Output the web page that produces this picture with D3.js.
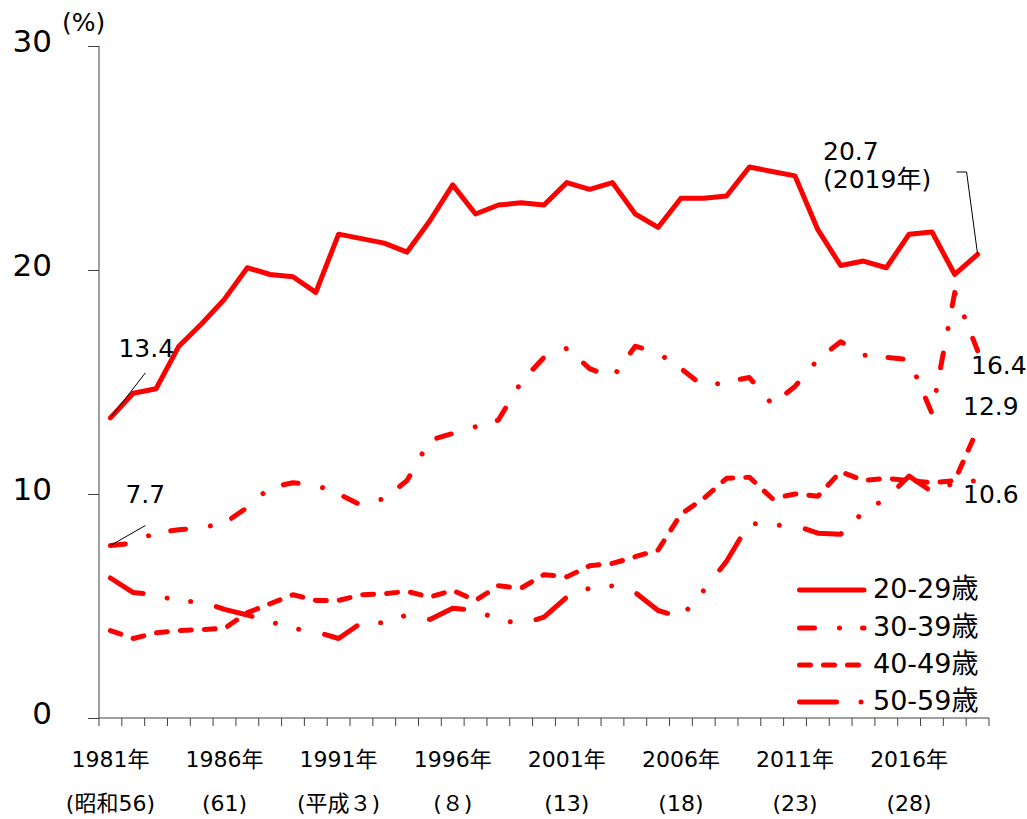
<!DOCTYPE html>
<html><head><meta charset="utf-8">
<script src="https://cdn.jsdelivr.net/npm/d3@7"></script>
<style>
body{margin:0;background:#fff;}
svg{display:block;}
text{font-family:"DejaVu Sans","Noto Sans CJK JP",sans-serif;fill:#000;}
</style></head>
<body>
<svg id="c" width="1027" height="819"></svg>
<script>
const years = d3.range(1981, 2020);
const s20 = [13.4,14.5,14.7,16.6,17.6,18.7,20.1,19.8,19.7,19.0, 21.6,21.4,21.2,20.8,22.2,23.8,22.5,22.9,23.0,22.9, 23.9,23.6,23.9,22.5,21.9,23.2,23.2,23.3,24.6,24.4, 24.2,21.8,20.2,20.4,20.1,21.6,21.7,19.8,20.7];
const s30 = [7.7,7.8,8.3,8.4,8.5,8.7,9.4,10.3,10.5,10.4, 10.0,9.5,9.8,10.6,12.4,12.7,13.0,13.3,15.0,16.1, 16.5,15.6,15.2,16.6,16.3,15.6,14.8,15.0,15.2,14.0, 14.8,16.0,16.8,16.2,16.1,16.0,13.6,19.0,16.4];
const s40 = [3.9,3.55,3.8,3.9,3.95,4.0,4.7,5.1,5.5,5.25, 5.25,5.5,5.55,5.65,5.4,5.7,5.25,5.9,5.8,6.4, 6.3,6.8,6.9,7.2,7.5,9.1,9.8,10.7,10.75,9.8, 10.0,9.9,11.0,10.6,10.7,10.6,10.5,10.6,12.9];
const s50 = [6.25,5.6,5.5,5.2,5.2,4.85,4.6,4.3,4.0,3.85, 3.55,4.25,4.25,4.6,4.4,4.9,4.8,4.4,4.2,4.5, 5.4,5.8,5.9,5.6,4.8,4.5,5.7,7.0,8.7,8.6, 8.6,8.25,8.2,9.2,9.8,10.8,10.1,10.5,10.6];
const seriesNames = ["20-29歳","30-39歳","40-49歳","50-59歳"];
const yTicks = [0,10,20,30];
const yearLabels = ["1981年","1986年","1991年","1996年","2001年","2006年","2011年","2016年"];
const eraLabels = ["(昭和56)","(61)","(平成３)","(８)","(13)","(18)","(23)","(28)"];

const svg = d3.select("#c");
const x = d3.scaleBand().domain(years).range([99, 989]);
const y = d3.scaleLinear().domain([0, 30]).range([718, 46]);
const bw = x.bandwidth();
const cx = yr => x(yr) + bw / 2;

const styles = [
  {dash: null},
  {dash: "15 25 0.01 23"},
  {dash: "11 13"},
  {dash: "37 24.5 0.01 24 0.01 26.5"}
];
const data = [s20, s30, s40, s50];

// axes
const axisColor = "#404040";
const yAxis = svg.append("g").attr("transform", "translate(99,0)")
  .call(d3.axisLeft(y).tickValues(yTicks).tickSize(11).tickPadding(36).tickFormat(d3.format("d")));
yAxis.select(".domain").attr("stroke", axisColor).attr("d", `M0,${y(30)}V${y(0)}`);
yAxis.selectAll(".tick line").attr("stroke", axisColor);
yAxis.selectAll(".tick text").attr("font-size", 31).attr("dy", "0.19em")
  .style("font-family", '"DejaVu Sans",sans-serif').attr("fill", "#000");

const xAxisG = svg.append("g");
xAxisG.append("line").attr("x1", x.range()[0]).attr("x2", x.range()[1])
  .attr("y1", y(0)).attr("y2", y(0)).attr("stroke", axisColor);
const bounds = years.map(yr => x(yr)).concat([x.range()[1]]);
xAxisG.selectAll(".xt").data(bounds).enter().append("line")
  .attr("x1", d => d).attr("x2", d => d).attr("y1", y(0)).attr("y2", y(0) + 8)
  .attr("stroke", axisColor);

const labYears = years.filter(yr => (yr - 1981) % 5 === 0);
svg.selectAll(".yl").data(labYears).enter().append("text")
  .attr("x", d => cx(d)).attr("y", 767).attr("text-anchor", "middle")
  .attr("font-size", 22).text((d, i) => yearLabels[i]);
svg.selectAll(".el").data(labYears).enter().append("text")
  .attr("x", d => cx(d)).attr("y", 811).attr("text-anchor", "middle")
  .attr("font-size", 22).text((d, i) => eraLabels[i]);

svg.append("text").attr("x", 62).attr("y", 31).attr("font-size", 25).text("(%)");

// lines
const line = d3.line().x((d, i) => cx(years[i])).y(d => y(d));
[3, 2, 1, 0].forEach(k => {
  svg.append("path").datum(data[k]).attr("d", line)
    .attr("fill", "none").attr("stroke", "#ff0000").attr("stroke-width", 5)
    .attr("stroke-linecap", "round").attr("stroke-linejoin", "round")
    .attr("stroke-dasharray", styles[k].dash);
});

// annotations
const ann = svg.append("g").attr("font-size", 25);
const leader = (pts) => svg.append("path").attr("d", d3.line()(pts))
  .attr("fill", "none").attr("stroke", "#000").attr("stroke-width", 1);
const x0 = cx(1981), xL = cx(2019);
leader([[x0, y(s20[0])], [x0 + 35, y(s20[0]) - 45]]);
ann.append("text").attr("x", x0 + 8).attr("y", 357).text(s20[0].toFixed(1));
leader([[x0, y(s30[0])], [x0 + 35, y(s30[0]) - 20]]);
ann.append("text").attr("x", x0 + 15).attr("y", 503).text(s30[0].toFixed(1));
leader([[xL - 21, 172], [xL - 11, 172], [xL, y(s20[38])]]);
ann.append("text").attr("x", 823).attr("y", 160).text(s20[38].toFixed(1));
ann.append("text").attr("x", 823).attr("y", 188).text("(2019年)");
ann.append("text").attr("x", 971).attr("y", 374).text(s30[38].toFixed(1));
ann.append("text").attr("x", 963).attr("y", 415).text(s40[38].toFixed(1));
ann.append("text").attr("x", 963).attr("y", 503).text(s50[38].toFixed(1));

// legend
const lg = svg.append("g");
const lys = [590, 628, 665, 702];
seriesNames.forEach((nm, k) => {
  lg.append("line").attr("x1", 799.5).attr("x2", 864).attr("y1", lys[k]).attr("y2", lys[k])
    .attr("stroke", "#ff0000").attr("stroke-width", 5).attr("stroke-linecap", "round")
    .attr("stroke-dasharray", styles[k].dash);
  lg.append("text").attr("x", 873).attr("y", lys[k] + 8).attr("font-size", 27).text(nm);
});
</script>
</body></html>
